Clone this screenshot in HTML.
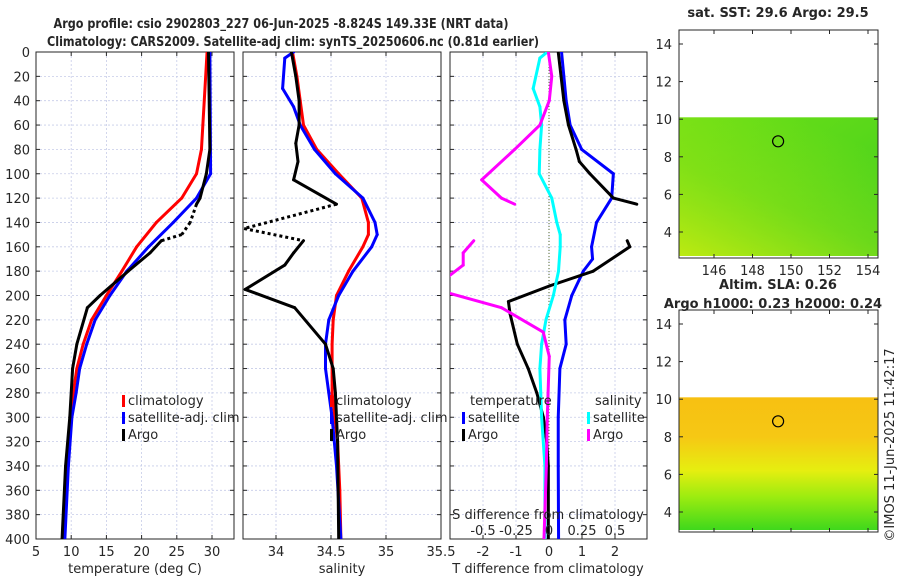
<!DOCTYPE html>
<html><head><meta charset="utf-8"><style>
body{margin:0;background:#fff;}
svg text{font-family:"DejaVu Sans","Liberation Sans",sans-serif;fill:#262626;}
</style></head><body>
<svg id="c" width="900" height="580" xmlns="http://www.w3.org/2000/svg">
<defs>
<clipPath id="clipT"><rect x="36" y="52" width="198" height="487"/></clipPath>
<clipPath id="clipS"><rect x="243" y="52" width="198" height="487"/></clipPath>
<clipPath id="clipD"><rect x="450" y="52" width="197" height="487"/></clipPath>
<linearGradient id="sstG" x1="0" y1="0" x2="1" y2="1">
<stop offset="0" stop-color="#6ee016"/><stop offset="0.5" stop-color="#5ad81a"/><stop offset="1" stop-color="#3fcf1f"/></linearGradient>
<linearGradient id="sstY" x1="0" y1="1" x2="0.6" y2="0">
<stop offset="0" stop-color="#c8ec10" stop-opacity="0.9"/><stop offset="0.5" stop-color="#a8e614" stop-opacity="0.4"/><stop offset="1" stop-color="#a8e614" stop-opacity="0"/></linearGradient>
<linearGradient id="slaG" x1="0" y1="0" x2="0" y2="1">
<stop offset="0" stop-color="#f7c012"/><stop offset="0.3" stop-color="#f6c814"/><stop offset="0.55" stop-color="#e6ee10"/><stop offset="0.75" stop-color="#9cec10"/><stop offset="1" stop-color="#3fd81c"/></linearGradient>
</defs>
<g id="g"></g>
</svg>
<script>
// ---- data ----
const depthTicks=[0,20,40,60,80,100,120,140,160,180,200,220,240,260,280,300,320,340,360,380,400];
const tempTicks=[5,10,15,20,25,30];
const salTicks=[34,34.5,35,35.5];
const tdiffTicks=[-2,-1,0,1,2];
const sdiffTicks=[-0.5,-0.25,0,0.25,0.5];

const climTDepth=[0,80,100,120,140,160,180,200,220,240,260,280,300,340,400];
const climT=[29.3,28.5,27.8,25.7,22.1,19.3,17.2,15.0,12.9,11.7,10.8,10.3,10.0,9.4,9.0];
const satTDepth=[0,100,120,140,160,180,200,220,240,260,280,300,340,400];
const satT=[29.7,29.8,27.8,24.5,21.0,17.9,15.5,13.4,12.2,11.2,10.7,10.1,9.6,9.1];
const argoTDepth=[0,80,100,120,125,140,150,155,165,180,200,210,240,260,300,340,400];
const argoT=[29.5,29.7,29.2,28.3,27.8,26.9,25.7,22.8,21.2,18.1,14.1,12.3,10.8,10.2,9.8,9.2,8.7];
const argoTBad=[0,0,0,0,0,1,1,0,0,0,0,0,0,0,0,0,0];

const climSDepth=[0,20,40,60,80,100,120,140,150,160,180,200,220,240,280,320,360,400];
const climS=[34.15,34.19,34.22,34.25,34.37,34.57,34.78,34.84,34.84,34.79,34.66,34.55,34.52,34.51,34.51,34.56,34.58,34.59];
const satSDepth=[0,5,30,45,60,80,100,120,140,150,160,180,200,220,240,260,280,300,340,400];
const satS=[34.16,34.08,34.06,34.16,34.22,34.35,34.54,34.79,34.90,34.92,34.87,34.70,34.57,34.48,34.45,34.45,34.48,34.51,34.55,34.59];
const argoSDepth=[0,20,40,60,75,90,105,125,145,155,165,175,195,210,240,260,280,320,400];
const argoS=[34.14,34.18,34.21,34.21,34.18,34.20,34.16,34.55,33.71,34.25,34.16,34.08,33.72,34.17,34.45,34.52,34.54,34.56,34.57];
const argoSBad=[0,0,0,0,0,0,0,0,1,0,0,0,0,0,0,0,0,0,0];

const satTdDepth=[0,20,40,60,80,100,120,140,160,170,180,200,220,240,260,300,340,400];
const satTd=[0.38,0.45,0.52,0.64,0.99,1.95,1.9,1.44,1.29,1.32,1.04,0.69,0.48,0.52,0.33,0.28,0.28,0.29];
const argoTdDepth=[0,40,60,80,90,100,120,125,140,150,155,160,180,192,205,215,240,260,280,300,320,340,400];
const argoTd=[0.28,0.45,0.59,0.82,0.92,1.24,1.95,2.66,null,null,2.37,2.45,1.34,0.03,-1.23,-1.18,-0.96,-0.63,-0.37,-0.17,-0.07,-0.02,-0.02];
const satSdDepth=[0,5,30,45,60,80,100,120,140,150,160,180,200,220,240,260,300,340,400];
const satSd=[-0.013,-0.069,-0.12,-0.069,-0.056,-0.069,-0.074,0.021,0.059,0.085,0.085,0.072,0.033,-0.023,-0.056,-0.069,-0.056,-0.031,-0.031];
const argoSdDepth=[0,20,40,60,80,105,120,125,140,150,155,165,175,185,195,210,230,250,300,340,400];
const argoSd=[-0.005,0.021,0.002,-0.069,-0.26,-0.51,-0.36,-0.26,null,null,-0.57,-0.65,-0.65,-0.77,-0.86,-0.36,-0.044,0.002,-0.013,-0.02,-0.038];

const mapLonTicks=[146,148,150,152,154];
const mapLatTicks=[4,6,8,10,12,14];
const floatLon=[149.33];
const floatLat=[8.824];

// ---- helpers ----
const NS="http://www.w3.org/2000/svg";
const root=document.getElementById('g');
function el(tag,attrs,parent){const e=document.createElementNS(NS,tag);for(const k in attrs)e.setAttribute(k,attrs[k]);(parent||root).appendChild(e);return e;}
function txt(x,y,s,size,anchor,extra){const t=el('text',Object.assign({x:x,y:y,'font-size':size,'text-anchor':anchor||'middle'},extra||{}));t.textContent=s;return t;}

const Y0=52,Y1=539;
const yD=d=>Y0+d*(Y1-Y0)/400;
const xT=t=>36+(t-5)*7.04;
const xS=s=>276+(s-34)*110;
const xTd=v=>549+v*33;
const xSd=v=>549+v*132;

function panel(x0,x1,xticks,xf,name){
  const g=el('g',{});
  
  
  depthTicks.forEach(d=>{el('line',{x1:x0,x2:x1,y1:yD(d),y2:yD(d),stroke:'#c6cce8','stroke-width':0.8,'stroke-dasharray':'2,2'},g);
    el('line',{x1:x0,x2:x0+4,y1:yD(d),y2:yD(d),stroke:'#262626'},g);el('line',{x1:x1-4,x2:x1,y1:yD(d),y2:yD(d),stroke:'#262626'},g);});
  xticks.forEach(v=>{const x=xf(v);el('line',{x1:x,x2:x,y1:Y0,y2:Y1,stroke:'#c6cce8','stroke-width':0.8,'stroke-dasharray':'2,2'},g);
    el('line',{x1:x,x2:x,y1:Y0,y2:Y0+4,stroke:'#262626'},g);el('line',{x1:x,x2:x,y1:Y1-4,y2:Y1,stroke:'#262626'},g);});
  el('rect',{x:x0,y:Y0,width:x1-x0,height:Y1-Y0,fill:'none',stroke:'#262626','stroke-width':1},g);
  return g;
}
function series(xs,ds,xf,color,clip,name,bad){
  const g=el('g',{'clip-path':'url(#'+clip+')'});
  
  
  for(let i=0;i<xs.length-1;i++){
    if(xs[i]==null||xs[i+1]==null)continue;
    const dotted=bad&&(bad[i]||bad[i+1]);
    el('line',{x1:xf(xs[i]),y1:yD(ds[i]),x2:xf(xs[i+1]),y2:yD(ds[i+1]),stroke:color,'stroke-width':3,'stroke-linecap':dotted?'butt':'round','stroke-dasharray':dotted?'3,3':'none'},g);
  }
}

// panel 1
panel(36,234,tempTicks,xT,'temperature-panel');
depthTicks.forEach(d=>{const t=txt(30,yD(d)+5,String(d),13,'end');});
tempTicks.forEach(v=>{txt(xT(v),556,String(v),13);});
txt(135,573,'temperature (deg C)',13);
series(climT,climTDepth,xT,'#ff0000','clipT','climatology-temp-line');
series(satT,satTDepth,xT,'#0000ff','clipT','satellite-temp-line');
series(argoT,argoTDepth,xT,'#000000','clipT','argo-temp-line',argoTBad);

// panel 2
panel(243,441,salTicks,xS,'salinity-panel');
salTicks.forEach(v=>{txt(xS(v),556,String(v),13);});
txt(342,573,'salinity',13);
series(climS,climSDepth,xS,'#ff0000','clipS','climatology-sal-line');
series(satS,satSDepth,xS,'#0000ff','clipS','satellite-sal-line');
series(argoS,argoSDepth,xS,'#000000','clipS','argo-sal-line',argoSBad);

// panel 3
panel(450,647,tdiffTicks,xTd,'difference-panel');
el('line',{x1:549,x2:549,y1:Y0,y2:Y1,stroke:'#556b2f','stroke-width':1,'stroke-dasharray':'1,2'});
tdiffTicks.forEach(v=>{txt(xTd(v),556,String(v),13);});
txt(548,573,'T difference from climatology',13);
series(satTd,satTdDepth,xTd,'#0000ff','clipD','satellite-tdiff-line');
series(argoTd,argoTdDepth,xTd,'#000000','clipD','argo-tdiff-line');
series(satSd,satSdDepth,xSd,'#00ffff','clipD','satellite-sdiff-line');
series(argoSd,argoSdDepth,xSd,'#ff00ff','clipD','argo-sdiff-line');
txt(548,519,'S difference from climatology',13);
sdiffTicks.forEach(v=>{txt(xSd(v),535,String(v),13);});

// legends
function legend(x,y,items,name){
  const g=el('g',{});
  items.forEach((it,i)=>{
    if(it[0])el('rect',{x:x,y:y+i*17-10,width:3,height:12,fill:it[0]},g);
    const t=el('text',{x:x+(it[0]?6:8),y:y+i*17,'font-size':13},g);t.textContent=it[1];});
}
legend(122,405,[['#ff0000','climatology'],['#0000ff','satellite-adj. clim'],['#000000','Argo']],'temperature-legend');
legend(330,405,[['#ff0000','climatology'],['#0000ff','satellite-adj. clim'],['#000000','Argo']],'salinity-legend');
legend(462,405,[[null,'temperature'],['#0000ff','satellite'],['#000000','Argo']],'tdiff-legend');
legend(587,405,[[null,'salinity'],['#00ffff','satellite'],['#ff00ff','Argo']],'sdiff-legend');

// titles
let t1=txt(281,28,'Argo profile: csio 2902803_227 06-Jun-2025 -8.824S 149.33E (NRT data)',13,'middle',{'font-weight':'bold',textLength:455,lengthAdjust:'spacingAndGlyphs'});

let t2=txt(293,46,'Climatology: CARS2009. Satellite-adj clim: synTS_20250606.nc (0.81d earlier)',13,'middle',{'font-weight':'bold',textLength:492,lengthAdjust:'spacingAndGlyphs'});


// maps
const mx=lon=>714+(lon-146)*19.25;
function map(top,bottom,lat14,lat4,dataTop,fill,name){
  const yl=lat=>lat4+(lat-4)*(lat14-lat4)/10;
  const g=el('g',{});
  el('rect',{x:679,y:yl(10.1),width:199,height:bottom-2-yl(10.1),fill:fill},g);
  if(name==='sst-map')el('rect',{x:679,y:yl(10.1),width:199,height:bottom-2-yl(10.1),fill:'url(#sstY)'},g);
  el('rect',{x:679,y:top,width:199,height:bottom-top,fill:'none',stroke:'#262626'},g);
  mapLatTicks.forEach(v=>{const y=yl(v);el('line',{x1:679,x2:683,y1:y,y2:y,stroke:'#262626'},g);el('line',{x1:874,x2:878,y1:y,y2:y,stroke:'#262626'},g);
    const t=el('text',{x:672,y:y+5,'font-size':13,'text-anchor':'end'},g);t.textContent=v;});
  mapLonTicks.forEach(v=>{const x=mx(v);el('line',{x1:x,x2:x,y1:bottom-4,y2:bottom,stroke:'#262626'},g);el('line',{x1:x,x2:x,y1:top,y2:top+4,stroke:'#262626'},g);});
  floatLon.forEach((lo,i)=>{const c=el('circle',{cx:mx(lo),cy:yl(floatLat[i]),r:5.5,fill:'none',stroke:'#000','stroke-width':1.2},g);});
  return yl;
}
map(30,258,44,232,117,'url(#sstG)','sst-map');
mapLonTicks.forEach(v=>{txt(mx(v),275,String(v),13);});
txt(778,17,'sat. SST: 29.6 Argo: 29.5',13,'middle',{'font-weight':'bold'});
map(310,532,324,512,397,'url(#slaG)','sla-map');
txt(778,289,'Altim. SLA: 0.26',13,'middle',{'font-weight':'bold'});
txt(773,308,'Argo h1000: 0.23 h2000: 0.24',13,'middle',{'font-weight':'bold'});
const cr=txt(0,0,'©IMOS 11-Jun-2025 11:42:17',13,'middle',{transform:'translate(894,445) rotate(-90)'});


</script>
</body></html>
